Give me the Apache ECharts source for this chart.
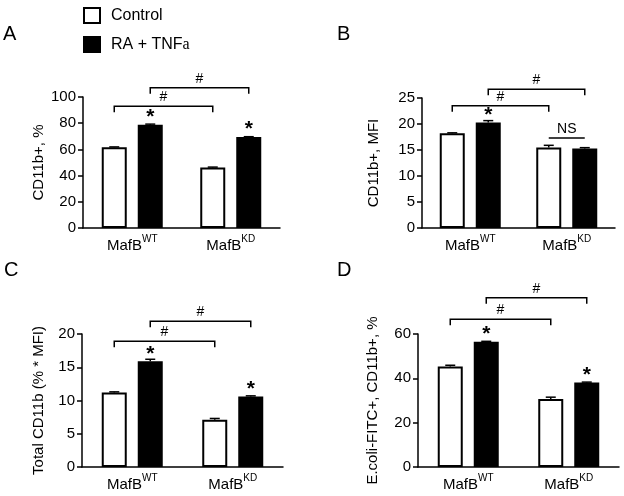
<!DOCTYPE html>
<html><head><meta charset="utf-8">
<script src="https://cdn.jsdelivr.net/npm/echarts@6/dist/echarts.min.js"></script>
<style>html,body{margin:0;padding:0;background:#fff}#c{width:624px;height:496px}</style>
</head><body><div id="c"></div>
<script>
// ---------- data ----------
const categories = ['MafB^WT', 'MafB^KD'];
const seriesNames = ['Control', 'RA + TNFa'];
const panelLetters = ['A', 'B', 'C', 'D'];
const yNames = ['CD11b+, %', 'CD11b+, MFI', 'Total CD11b (% * MFI)', 'E.coli-FITC+, CD11b+, %'];
const yMaxes = [100, 25, 20, 60];
const yIntervals = [20, 5, 5, 20];

const controlA = [61.6, 46.1];
const treatedA = [78.9, 69.4];
const controlErrA = [0.3, 0.4];
const treatedErrA = [0.4, 0.3];
const starA = [true, true];

const controlB = [18.2, 15.5];
const treatedB = [20.3, 15.3];
const controlErrB = [0.1, 0.4];
const treatedErrB = [0.35, 0.15];
const starB = [true, false];

const controlC = [11.2, 7.1];
const treatedC = [15.9, 10.6];
const controlErrC = [0.1, 0.2];
const treatedErrC = [0.3, 0.1];
const starC = [true, true];

const controlD = [45.3, 30.7];
const treatedD = [56.5, 38.1];
const controlErrD = [0.6, 0.8];
const treatedErrD = [0.2, 0.2];
const starD = [true, true];

// comparisons: from/to = [categoryIndex, seriesIndex]
const bracketsA = [
  { from: [0, 0], to: [1, 0], y: 93, text: '#', kind: 'bracket' },
  { from: [0, 1], to: [1, 1], y: 107, text: '#', kind: 'bracket' }
];
const bracketsB = [
  { from: [0, 0], to: [1, 0], y: 23.5, text: '#', kind: 'bracket' },
  { from: [0, 1], to: [1, 1], y: 26.7, text: '#', kind: 'bracket' },
  { from: [1, 0], to: [1, 1], y: 17.3, text: 'NS', kind: 'line' }
];
const bracketsC = [
  { from: [0, 0], to: [1, 0], y: 18.9, text: '#', kind: 'bracket' },
  { from: [0, 1], to: [1, 1], y: 21.9, text: '#', kind: 'bracket' }
];
const bracketsD = [
  { from: [0, 0], to: [1, 0], y: 66.6, text: '#', kind: 'bracket' },
  { from: [0, 1], to: [1, 1], y: 76.3, text: '#', kind: 'bracket' }
];

// ---------- layout / style ----------
const FONT = 'Liberation Sans, Arial, sans-serif';
const BAR_W = 25;
const BAR_GAP_PX = 11;
const SLOT_OFF = (BAR_W + BAR_GAP_PX) / 2;
const grids = [
  { left: 83, top: 97, width: 197, height: 131 },
  { left: 422, top: 98, width: 193, height: 130 },
  { left: 82, top: 334, width: 201, height: 133 },
  { left: 418, top: 334, width: 201, height: 133 }
];
const nameGaps = [37, 41, 36, 38];
const letterPos = [[3, 24], [337, 24], [4, 260], [337, 260]];

const panels = [
  { control: controlA, treated: treatedA, cErr: controlErrA, tErr: treatedErrA, star: starA, brackets: bracketsA },
  { control: controlB, treated: treatedB, cErr: controlErrB, tErr: treatedErrB, star: starB, brackets: bracketsB },
  { control: controlC, treated: treatedC, cErr: controlErrC, tErr: treatedErrC, star: starC, brackets: bracketsC },
  { control: controlD, treated: treatedD, cErr: controlErrD, tErr: treatedErrD, star: starD, brackets: bracketsD }
];

function slotOffset(s) { return s === 0 ? -SLOT_OFF : SLOT_OFF; }

function errRender(slot) {
  return function (params, api) {
    const cat = api.value(0), v = api.value(1), e = api.value(2);
    const base = api.coord([cat, v]);
    const top = api.coord([cat, v + e]);
    const x = base[0] + slotOffset(slot);
    return {
      type: 'group',
      children: [
        { type: 'line', shape: { x1: x, y1: base[1], x2: x, y2: top[1] }, style: { stroke: '#000', lineWidth: 1.5 } },
        { type: 'line', shape: { x1: x - 5, y1: top[1], x2: x + 5, y2: top[1] }, style: { stroke: '#000', lineWidth: 1.5 } }
      ]
    };
  };
}

function bracketRender(list) {
  return function (params, api) {
    const b = list[params.dataIndex];
    const p1 = api.coord([b.from[0], b.y]);
    const p2 = api.coord([b.to[0], b.y]);
    const x1 = p1[0] + slotOffset(b.from[1]);
    const x2 = p2[0] + slotOffset(b.to[1]);
    const y = p1[1];
    const drop = b.kind === 'bracket' ? 6 : 0;
    return {
      type: 'group',
      children: [
        { type: 'polyline', shape: { points: [[x1, y + drop], [x1, y], [x2, y], [x2, y + drop]] },
          style: { stroke: '#000', lineWidth: 1.5, fill: null } },
        { type: 'text', x: (x1 + x2) / 2, y: y - 2,
          style: { text: b.text, fontSize: 14, fontFamily: FONT, fill: '#000', align: 'center', verticalAlign: 'bottom' } }
      ]
    };
  };
}

const option = {
  animation: false,
  backgroundColor: '#fff',
  textStyle: { fontFamily: FONT, color: '#000' },
  title: panelLetters.map((t, i) => ({
    text: t, left: letterPos[i][0], top: letterPos[i][1], padding: 0,
    textStyle: { fontSize: 20, fontWeight: 'normal', fontFamily: FONT, color: '#000' }
  })),
  legend: {
    data: seriesNames.map(n => ({ name: n, icon: 'rect' })),
    orient: 'vertical',
    left: 83, top: 7, padding: 0,
    itemWidth: 16, itemHeight: 15, itemGap: 12,
    selectedMode: false,
    formatter: n => n === 'RA + TNFa' ? 'RA + TNF{a|a}' : n,
    textStyle: {
      fontSize: 16, fontFamily: FONT, color: '#000', padding: [0, 0, 0, 6],
      rich: { a: { fontSize: 16, fontFamily: 'Liberation Serif, DejaVu Serif, serif', color: '#000' } }
    }
  },
  grid: grids,
  xAxis: grids.map((g, i) => ({
    type: 'category', gridIndex: i, data: categories,
    axisLine: { lineStyle: { color: '#000', width: 1.5 } },
    axisTick: { alignWithLabel: true, length: 5, lineStyle: { color: '#000', width: 1.5 } },
    axisLabel: {
      interval: 0, margin: 6, color: '#000', fontSize: 15, fontFamily: FONT,
      formatter: v => { const p = v.split('^'); return '{b|' + p[0] + '}{sup|' + p[1] + '}'; },
      rich: {
        b: { fontSize: 15, fontFamily: FONT, color: '#000', verticalAlign: 'bottom' },
        sup: { fontSize: 10, fontFamily: FONT, color: '#000', verticalAlign: 'top', padding: [0, 0, 9, 0] }
      }
    }
  })),
  yAxis: grids.map((g, i) => ({
    type: 'value', gridIndex: i, min: 0, max: yMaxes[i], interval: yIntervals[i],
    name: yNames[i], nameLocation: 'middle', nameGap: nameGaps[i],
    nameTextStyle: { fontSize: 15, fontFamily: FONT, color: '#000' },
    axisLine: { show: true, lineStyle: { color: '#000', width: 1.5 } },
    axisTick: { show: true, length: 5, lineStyle: { color: '#000', width: 1.5 } },
    axisLabel: { margin: 7, color: '#000', fontSize: 15, fontFamily: FONT },
    splitLine: { show: false }
  })),
  series: []
};

panels.forEach((p, i) => {
  option.series.push({
    name: seriesNames[0], type: 'bar', xAxisIndex: i, yAxisIndex: i,
    data: p.control, barWidth: BAR_W, barGap: (BAR_GAP_PX / BAR_W * 100) + '%',
    itemStyle: { color: '#fff', borderColor: '#000', borderWidth: 2 }
  });
  option.series.push({
    name: seriesNames[1], type: 'bar', xAxisIndex: i, yAxisIndex: i,
    data: p.treated, barWidth: BAR_W, barGap: (BAR_GAP_PX / BAR_W * 100) + '%',
    itemStyle: { color: '#000', borderColor: '#000', borderWidth: 2 },
    label: {
      show: true, position: 'top', distance: -3,
      formatter: q => p.star[q.dataIndex] ? '*' : '',
      fontSize: 21, fontWeight: 'bold', fontFamily: FONT, color: '#000'
    }
  });
  option.series.push({
    type: 'custom', xAxisIndex: i, yAxisIndex: i, z: 5, clip: false,
    data: p.control.map((v, k) => [k, v, p.cErr[k]]), renderItem: errRender(0)
  });
  option.series.push({
    type: 'custom', xAxisIndex: i, yAxisIndex: i, z: 5, clip: false,
    data: p.treated.map((v, k) => [k, v, p.tErr[k]]), renderItem: errRender(1)
  });
  option.series.push({
    type: 'custom', xAxisIndex: i, yAxisIndex: i, z: 5, clip: false,
    data: p.brackets.map(b => [b.from[0], b.y]), renderItem: bracketRender(p.brackets)
  });
});

const chart = echarts.init(document.getElementById('c'), null, { renderer: 'canvas' });
chart.setOption(option);
</script>
</body></html>
